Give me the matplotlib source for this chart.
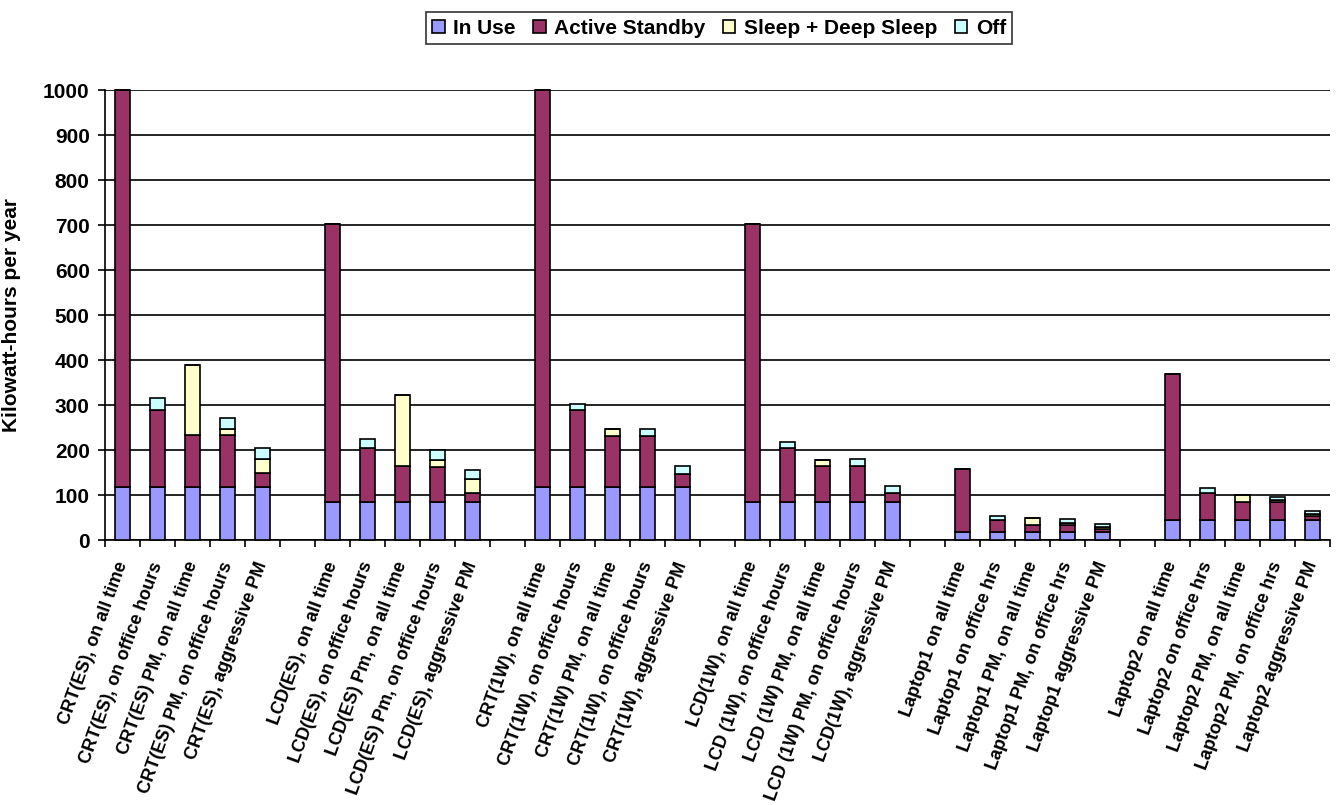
import matplotlib.pyplot as plt
from matplotlib.patches import Patch
from matplotlib.ticker import FixedLocator, MultipleLocator

plt.rcParams['font.family'] = ['Liberation Sans', 'DejaVu Sans']

# one row per computer configuration, six groups of five
labels = [
    "CRT(ES), on all time", "CRT(ES), on office hours", "CRT(ES) PM, on all time",
    "CRT(ES) PM, on office hours", "CRT(ES), aggressive PM",
    "LCD(ES), on all time", "LCD(ES), on office hours", "LCD(ES) Pm, on all time",
    "LCD(ES) Pm, on office hours", "LCD(ES), aggressive PM",
    "CRT(1W), on all time", "CRT(1W), on office hours", "CRT(1W) PM, on all time",
    "CRT(1W), on office hours", "CRT(1W), aggressive PM",
    "LCD(1W), on all time", "LCD (1W), on office hours", "LCD (1W) PM, on all time",
    "LCD (1W) PM, on office hours", "LCD(1W), aggressive PM",
    "Laptop1 on all time", "Laptop1 on office hrs", "Laptop1 PM, on all time",
    "Laptop1 PM, on office hrs", "Laptop1 aggressive PM",
    "Laptop2 on all time", "Laptop2 on office hrs", "Laptop2 PM, on all time",
    "Laptop2 PM, on office hrs", "Laptop2 aggressive PM",
]

in_use = [118, 118, 118, 118, 118,
          85, 85, 85, 85, 85,
          118, 118, 118, 118, 118,
          85, 85, 85, 85, 85,
          18, 18, 18, 18, 18,
          44, 44, 44, 44, 44]
active_standby = [882, 172, 115, 115, 30,
                  618, 120, 80, 78, 19,
                  882, 172, 113, 113, 28,
                  618, 119, 79, 79, 19,
                  140, 27, 16, 16, 6,
                  325, 61, 41, 41, 9]
sleep = [0, 0, 157, 13, 31,
         0, 0, 157, 15, 31,
         0, 0, 15, 0, 0,
         0, 0, 14, 0, 0,
         0, 0, 15, 3, 5,
         0, 0, 16, 3, 5]
off = [0, 25, 0, 26, 25,
       0, 19, 0, 21, 21,
       0, 12, 0, 16, 18,
       0, 13, 0, 15, 16,
       0, 9, 0, 10, 6,
       0, 10, 0, 8, 6]

series = ["In Use", "Active Standby", "Sleep + Deep Sleep", "Off"]
colors = ["#9999FF", "#993366", "#FFFFCC", "#CCFFFF"]

# leave an empty slot between groups
pos = [(i // 5) * 6 + i % 5 for i in range(len(labels))]

fig = plt.figure(figsize=(13.41, 8.05), dpi=100)
ax = fig.add_axes([105 / 1341, 1 - 540 / 805, 1225 / 1341, 450 / 805])

bottom = [0] * len(pos)
for vals, name, c in zip([in_use, active_standby, sleep, off], series, colors):
    ax.bar(pos, vals, width=0.41, bottom=bottom, color=c, edgecolor='black',
           linewidth=1.2, label=name, zorder=3, clip_on=False)
    bottom = [b + v for b, v in zip(bottom, vals)]

ax.set_xlim(-0.5, 34.5)
ax.set_ylim(0, 1000)
ax.yaxis.set_major_locator(MultipleLocator(100))
ax.grid(axis='y', color='black', linewidth=1.2)
ax.set_axisbelow(True)

for s in ['top', 'right']:
    ax.spines[s].set_visible(False)
for s in ['left', 'bottom']:
    ax.spines[s].set_linewidth(1.2)

ax.set_xticks(pos)
ax.set_xticklabels(labels, fontsize=13, fontweight='bold')
ax.xaxis.set_minor_locator(FixedLocator([x - 0.5 for x in range(36)]))
ax.tick_params(axis='x', which='major', length=0, pad=16)
ax.tick_params(axis='x', which='minor', length=5, width=1.2, direction='out')
plt.setp(ax.get_xticklabels(), rotation=70, ha='right', va='center', rotation_mode='anchor')

ax.tick_params(axis='y', length=5, width=1.2, direction='out', pad=6, labelsize=15)
for t in ax.get_yticklabels():
    t.set_fontweight('bold')

ax.set_ylabel("Kilowatt-hours per year", fontsize=15, fontweight='bold')
ax.yaxis.set_label_coords(-0.0686, 0.5)

handles = [Patch(facecolor=c, edgecolor='black', linewidth=1.2) for c in colors]
leg = fig.legend(handles, series, loc='center', bbox_to_anchor=(719 / 1341, 1 - 28 / 805),
                 ncol=4, frameon=True, fancybox=False, edgecolor='black',
                 prop={'weight': 'bold', 'size': 15}, handlelength=0.6, handleheight=0.6,
                 handletextpad=0.4, columnspacing=0.85, borderpad=0.3)
leg.get_frame().set_linewidth(1.2)

fig.savefig("out.png", dpi=100)
